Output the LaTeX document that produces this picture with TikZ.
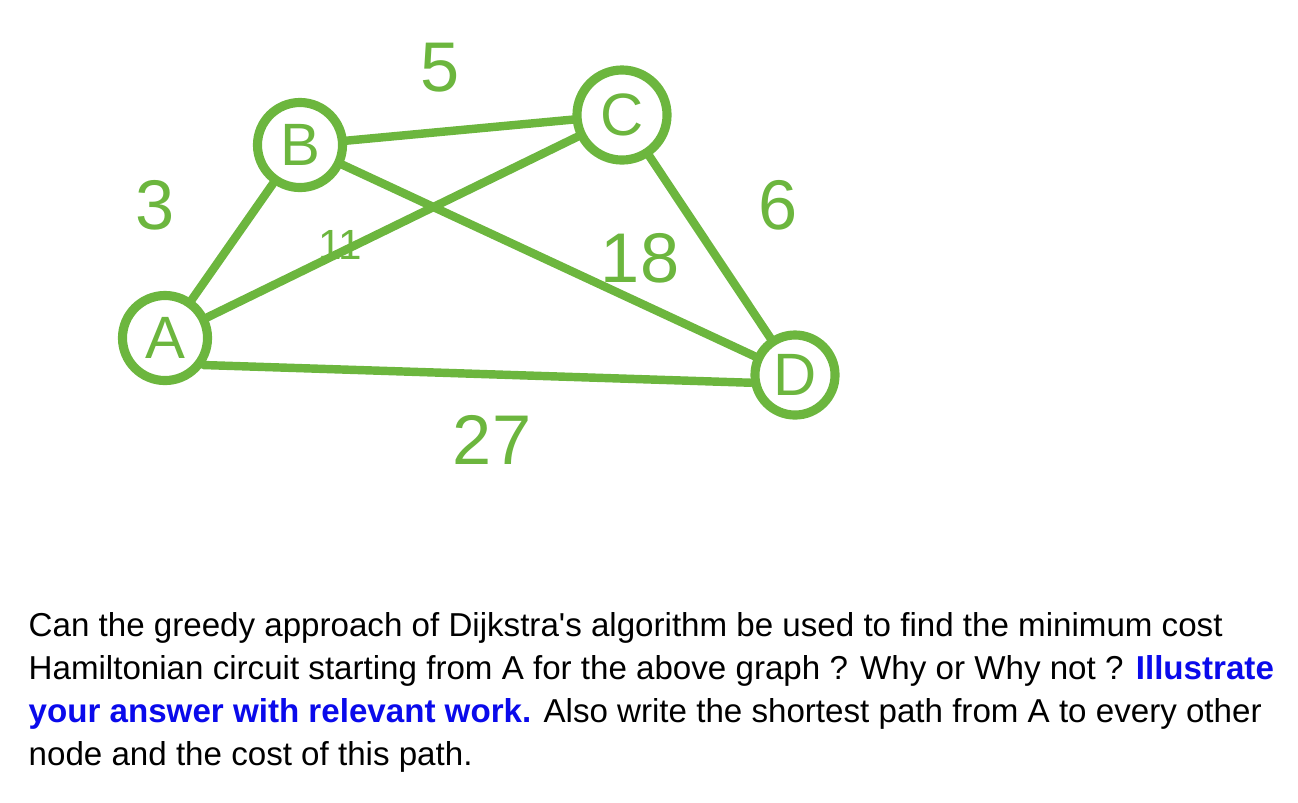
\documentclass[tikz,border=0pt]{standalone}
\usepackage{fontspec}
\setmainfont{Liberation Sans}[Ligatures=TeXOff]
\definecolor{gr}{RGB}{108,182,62}
\definecolor{bl}{RGB}{10,10,235}
\begin{document}
\begin{tikzpicture}[x=0.01cm,y=-0.01cm,
  vtx/.style={circle,draw=gr,line width=2.6pt,inner sep=0pt,text=gr,font=\fontsize{17}{17}\selectfont},
  edge/.style={draw=gr,line width=2.4pt,line cap=round},
  wt/.style={text=gr,font=\fontsize{20}{20}\selectfont},
  txt/.style={anchor=base west,inner sep=0pt,font=\fontsize{9.42}{11}\selectfont}]
\useasboundingbox (0,0) rectangle (1298,802);
\node[vtx,minimum size=0.85cm] (A) at (165,338) {A};
\node[vtx,minimum size=0.85cm] (B) at (300,145) {B};
\node[vtx,minimum size=0.9cm] (C) at (622,115) {C};
\node[vtx,minimum size=0.8cm] (D) at (795,375) {D};
\draw[edge] (A) -- (B);
\draw[edge] (B) -- (C);
\draw[edge] (A) -- (C);
\draw[edge] (B) -- (D);
\draw[edge] (C) -- (D);
\draw[edge] (A.-35) -- (D.190);
\node[wt] (w5) at (440,68) {5};
\node[wt] (w3) at (155,205) {3};
\node[wt,font=\fontsize{12}{12}\selectfont] (w11) at (340,245) {11};
\node[wt] (w18) at (640,258) {18};
\node[wt] (w6) at (778,205) {6};
\node[wt] (w27) at (492,440) {27};
\node[txt] (l1) at (28,636) {Can the greedy approach of Dijkstra's algorithm be used to find the minimum cost};
\node[txt] (l2) at (28,679) {Hamiltonian circuit starting from A for the above graph ? Why or Why not ? \textcolor{bl}{\bfseries Illustrate}};
\node[txt] (l3) at (28,722) {\textcolor{bl}{\bfseries your answer with relevant work.} Also write the shortest path from A to every other};
\node[txt] (l4) at (28,765) {node and the cost of this path.};
\end{tikzpicture}
\end{document}
